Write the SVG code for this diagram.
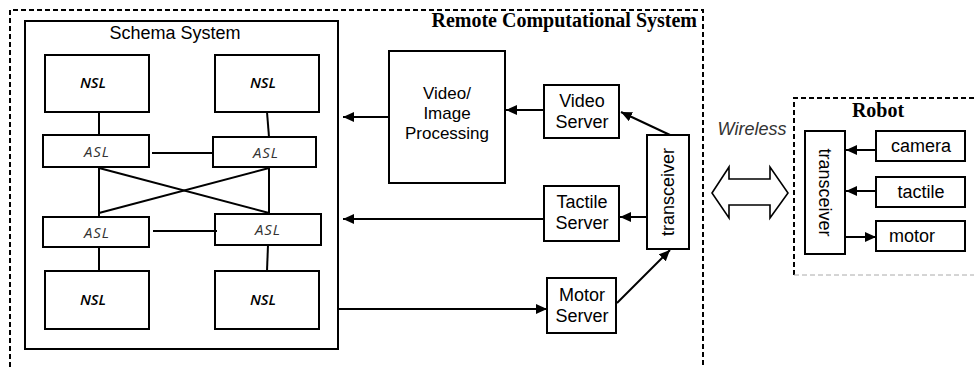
<svg xmlns="http://www.w3.org/2000/svg" width="974" height="367" viewBox="0 0 974 367">
  <defs>
    <marker id="arrow" markerUnits="userSpaceOnUse" markerWidth="12" markerHeight="10" refX="11" refY="5" orient="auto">
      <path d="M0,0 L11,5 L0,10 Z" fill="#000"/>
    </marker>
    <style>
      .box { fill: #fff; stroke: #000; stroke-width: 2; }
      .frame { fill: none; stroke: #000; stroke-width: 2; stroke-dasharray: 5 3; }
      .link { fill: none; stroke: #000; stroke-width: 2; }
      .arr { fill: none; stroke: #000; stroke-width: 2; marker-end: url(#arrow); }
      .lbl { font-family: "Liberation Sans", Arial, sans-serif; font-size: 18px; fill: #000; text-anchor: middle; }
      .lbl17 { font-family: "Liberation Sans", Arial, sans-serif; font-size: 17px; fill: #000; text-anchor: middle; }
      .title { font-family: "Liberation Serif", "Times New Roman", serif; font-weight: bold; font-size: 20px; fill: #000; }
      .nsl { font-family: "Open Sans", "DejaVu Sans", sans-serif; font-style: italic; font-weight: 600; font-size: 15px; fill: #000; text-anchor: middle; }
      .asl { font-family: "Open Sans", "DejaVu Sans", sans-serif; font-style: italic; font-size: 15px; letter-spacing: 1px; fill: #333; text-anchor: middle; }
    </style>
  </defs>

  <!-- Remote Computational System frame (open at the bottom) -->
  <g id="remote-system">
    <path class="frame" d="M10,367 L10,10 L703,10 L703,367"/>
    <text class="title" x="697" y="27" text-anchor="end">Remote Computational System</text>
  </g>

  <!-- Schema System -->
  <g id="schema-system">
    <rect class="box" x="25" y="21" width="313" height="328"/>
    <text class="lbl" x="175" y="39">Schema System</text>
  </g>

  <g id="nsl-top-left">
    <rect class="box" x="45" y="55" width="104" height="57"/>
    <text class="nsl" x="93" y="88">NSL</text>
  </g>
  <g id="nsl-top-right">
    <rect class="box" x="215" y="55" width="104" height="57"/>
    <text class="nsl" x="263" y="88">NSL</text>
  </g>
  <g id="asl-top-left">
    <rect class="box" x="43" y="135" width="106" height="32"/>
    <text class="asl" x="97" y="157">ASL</text>
  </g>
  <g id="asl-top-right">
    <rect class="box" x="213" y="137" width="103" height="30"/>
    <text class="asl" x="266" y="158">ASL</text>
  </g>
  <g id="asl-bottom-left">
    <rect class="box" x="43" y="217" width="106" height="30"/>
    <text class="asl" x="97" y="238">ASL</text>
  </g>
  <g id="asl-bottom-right">
    <rect class="box" x="215" y="214" width="106" height="31"/>
    <text class="asl" x="268" y="235">ASL</text>
  </g>
  <g id="nsl-bottom-left">
    <rect class="box" x="45" y="271" width="104" height="58"/>
    <text class="nsl" x="93" y="305">NSL</text>
  </g>
  <g id="nsl-bottom-right">
    <rect class="box" x="215" y="271" width="104" height="58"/>
    <text class="nsl" x="263" y="305">NSL</text>
  </g>

  <!-- Processing and servers -->
  <g id="video-image-processing">
    <rect class="box" x="389" y="51" width="116" height="132"/>
    <text class="lbl17" x="447" y="99">Video/</text>
    <text class="lbl17" x="447" y="119">Image</text>
    <text class="lbl17" x="447" y="139">Processing</text>
  </g>
  <g id="video-server">
    <rect class="box" x="544" y="85" width="75" height="53"/>
    <text class="lbl" x="582" y="107">Video</text>
    <text class="lbl" x="582" y="128">Server</text>
  </g>
  <g id="tactile-server">
    <rect class="box" x="544" y="186" width="75" height="55"/>
    <text class="lbl" x="582" y="208">Tactile</text>
    <text class="lbl" x="582" y="229">Server</text>
  </g>
  <g id="motor-server">
    <rect class="box" x="547" y="278" width="69" height="55"/>
    <text class="lbl" x="582" y="301">Motor</text>
    <text class="lbl" x="582" y="322">Server</text>
  </g>
  <g id="remote-transceiver">
    <rect class="box" x="647" y="135" width="42" height="114"/>
    <text class="lbl" transform="translate(674,192) rotate(-90)">transceiver</text>
  </g>

  <!-- Wireless link -->
  <g id="wireless">
    <text x="752" y="135" text-anchor="middle" font-family="Liberation Sans, Arial, sans-serif" font-style="italic" font-size="18" fill="#333">Wireless</text>
    <path d="M712,193 L729,167 L729,179 L770,179 L770,167 L788,193 L770,218 L770,205 L729,205 L729,218 Z" fill="#fff" stroke="#000" stroke-width="1.6" stroke-linejoin="miter"/>
  </g>

  <!-- Robot -->
  <g id="robot">
    <path d="M794,275 L794,98 L974,98" fill="none" stroke="#000" stroke-width="2" stroke-dasharray="5 3"/>
    <path d="M794,275 L974,275" fill="none" stroke="#aaa" stroke-width="1" stroke-dasharray="5 3"/>
    <text class="title" x="878" y="117" text-anchor="middle">Robot</text>
  </g>
  <g id="robot-transceiver">
    <rect class="box" x="805" y="131" width="40" height="123"/>
    <text class="lbl" transform="translate(819,192.5) rotate(90)">transceiver</text>
  </g>
  <g id="camera">
    <rect class="box" x="876" y="131" width="89" height="30"/>
    <text class="lbl" x="921" y="152">camera</text>
  </g>
  <g id="tactile">
    <rect class="box" x="876" y="177" width="89" height="30"/>
    <text class="lbl" x="921" y="198">tactile</text>
  </g>
  <g id="motor">
    <rect class="box" x="876" y="221" width="89" height="30"/>
    <text class="lbl" x="912" y="242">motor</text>
  </g>

  <!-- Connectors -->
  <g id="connectors">
    <line class="link" x1="99" y1="112" x2="99" y2="135"/>
    <line class="link" x1="267" y1="112" x2="269" y2="137"/>
    <line class="link" x1="152" y1="153" x2="213" y2="153"/>
    <line class="link" x1="99" y1="167" x2="99" y2="217"/>
    <line class="link" x1="269" y1="167" x2="269" y2="214"/>
    <line class="link" x1="99" y1="168" x2="269" y2="213"/>
    <line class="link" x1="269" y1="168" x2="99" y2="213"/>
    <line class="link" x1="153" y1="231" x2="217" y2="231"/>
    <line class="link" x1="99" y1="247" x2="99" y2="271"/>
    <line class="link" x1="268" y1="245" x2="267" y2="271"/>

    <line class="arr" x1="389" y1="117" x2="343" y2="117"/>
    <line class="arr" x1="544" y1="110" x2="506" y2="110"/>
    <line class="arr" x1="670" y1="135" x2="621" y2="112"/>
    <line class="arr" x1="647" y1="217" x2="620" y2="217"/>
    <line class="arr" x1="544" y1="219" x2="343" y2="219"/>
    <line class="arr" x1="338" y1="309" x2="547" y2="309"/>
    <line class="arr" x1="617" y1="303" x2="670" y2="250"/>

    <line class="arr" x1="876" y1="150" x2="846" y2="150"/>
    <line class="arr" x1="876" y1="191" x2="846" y2="191"/>
    <line class="arr" x1="845" y1="237" x2="876" y2="237"/>
  </g>
</svg>
